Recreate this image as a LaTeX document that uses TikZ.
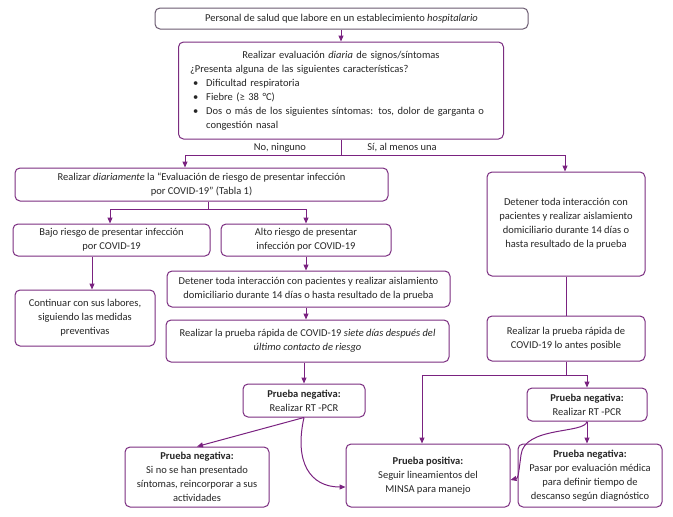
\documentclass[tikz,border=0pt]{standalone}
\usepackage{fontspec}
\setmainfont{Carlito}
\usetikzlibrary{arrows.meta}
\definecolor{boxc}{HTML}{7B2D80}
\definecolor{topc}{HTML}{6A5A70}
\definecolor{arrc}{HTML}{7A2280}
\definecolor{txt}{HTML}{262626}
\tikzset{
  box/.style={draw=boxc, line width=1pt, rounded corners=5pt, fill=white, align=center,
    inner sep=1pt, text=txt, font=\fontsize{10.5}{14}\selectfont},
  arr/.style={draw=arrc, line width=1pt, -{Triangle[length=6pt,width=5pt]}},
  ln/.style={draw=arrc, line width=1pt},
  lbl/.style={text=txt, font=\fontsize{10.5}{14}\selectfont, inner sep=0pt}
}
\begin{document}
\begin{tikzpicture}[x=1pt,y=-1pt]
\useasboundingbox (0,0) rectangle (673,517);
% nodes
\node[box, draw=topc, minimum width=373, minimum height=21] (b1) at (341.5,18.5)
  {Personal de salud que labore en un establecimiento \textit{hospitalario}};
\node[box, minimum width=325, minimum height=97, text width=302pt, align=left] (b2) at (341,90.5)
  {\makebox[302pt][c]{Realizar evaluación \textit{diaria} de signos/síntomas}\\
   ¿Presenta alguna de las siguientes características?\\
   \hspace*{3pt}\textbullet\hspace{8pt}Dificultad respiratoria\\
   \hspace*{3pt}\textbullet\hspace{8pt}Fiebre (≥ 38 °C)\\
   \hspace*{3pt}\textbullet\hspace{8pt}Dos o más de los siguientes síntomas: tos, dolor de garganta o\\
   \hspace*{3pt}\phantom{\textbullet}\hspace{8pt}congestión nasal};
\node[box, minimum width=373, minimum height=33] (b3) at (201.5,184.5)
  {Realizar \textit{diariamente} la “Evaluación de riesgo de presentar infección\\ por COVID-19” (Tabla 1)};
\node[box, minimum width=158, minimum height=104] (bR1) at (566,224)
  {Detener toda interacción con\\ pacientes y realizar aislamiento\\ domiciliario durante 14 días o\\ hasta resultado de la prueba};
\node[box, minimum width=197, minimum height=32] (bajo) at (111.5,240)
  {Bajo riesgo de presentar infección\\ por COVID-19};
\node[box, minimum width=170, minimum height=32] (alto) at (306,240)
  {Alto riesgo de presentar\\ infección por COVID-19};
\node[box, minimum width=140, minimum height=56] (cont) at (85,318)
  {Continuar con sus labores,\\ siguiendo las medidas\\ preventivas};
\node[box, minimum width=283, minimum height=36] (det) at (308.5,289)
  {Detener toda interacción con pacientes y realizar aislamiento\\ domiciliario durante 14 días o hasta resultado de la prueba};
\node[box, minimum width=283, minimum height=42] (siete) at (307.5,341)
  {Realizar la prueba rápida de COVID-19 \textit{siete días después del}\\ \textit{último contacto de riesgo}};
\node[box, minimum width=158, minimum height=45] (bR2) at (566,338.5)
  {Realizar la prueba rápida de\\ COVID-19 lo antes posible};
\node[box, minimum width=122, minimum height=33] (neg1) at (304,400.5)
  {\textbf{Prueba negativa:}\\ Realizar RT -PCR};
\node[box, minimum width=120, minimum height=33] (neg2) at (587,404.5)
  {\textbf{Prueba negativa:}\\ Realizar RT -PCR};
\node[box, minimum width=144, minimum height=60] (negL) at (197,477)
  {\textbf{Prueba negativa:}\\ Si no se han presentado\\ síntomas, reincorporar a sus\\ actividades};
\node[box, minimum width=164, minimum height=63] (pos) at (428,475.5)
  {\textbf{Prueba positiva:}\\ Seguir lineamientos del\\ MINSA para manejo};
\node[box, minimum width=144, minimum height=63] (pasar) at (590,475.5)
  {\textbf{Prueba negativa:}\\ Pasar por evaluación médica\\ para definir tiempo de\\ descanso según diagnóstico};
% labels
\node[lbl] (lno) at (280,148) {No, ninguno};
\node[lbl] (lsi) at (402,148) {Sí, al menos una};
% connectors
\draw[arr] (b1.south -| b2.north) -- (b2.north);
\coordinate (j1) at (341,155);
\coordinate (jL) at (185,155);
\coordinate (jR) at (565,155);
\draw[ln] (b2.south) -- (j1);
\draw[ln] (jL) -- (jR);
\draw[arr] (jL) -- (jL |- b3.north);
\draw[arr] (jR) -- (jR |- bR1.north);
\coordinate (j2) at (208,209);
\coordinate (j2L) at (110,209);
\coordinate (j2R) at (306,209);
\draw[ln] (j2 |- b3.south) -- (j2);
\draw[ln] (j2L) -- (j2R);
\draw[arr] (j2L) -- (j2L |- bajo.north);
\draw[arr] (j2R) -- (j2R |- alto.north);
\coordinate (c92) at (92,300);
\draw[arr] (c92 |- bajo.south) -- (c92 |- cont.north);
\draw[arr] (alto.south) -- (alto.south |- det.north);
\draw[arr] (alto.south |- det.south) -- (alto.south |- siete.north);
\draw[ln] (bR1.south) -- (bR2.north);
\draw[arr] (neg1.north |- siete.south) -- (neg1.north);
\coordinate (j3) at (566,375);
\coordinate (j3L) at (422,375);
\coordinate (j3R) at (587,375);
\draw[ln] (bR2.south) -- (j3);
\draw[ln] (j3L) -- (j3R);
\draw[arr] (j3L) -- (j3L |- pos.north);
\draw[arr] (j3R) -- (neg2.north);
\draw[arr] (neg1.south) -- (negL.north);
\draw[arr] (neg1.south) .. controls (294,462) and (310,487) .. ([yshift=-11.5pt]pos.west);
\draw[arr] (neg2.south) -- (neg2.south |- pasar.north);
\draw[arr] (neg2.south) .. controls (585,434) and (524,426) .. (521,455) .. controls (518,478) .. ([yshift=-4.5pt]pos.east);
\end{tikzpicture}
\end{document}
